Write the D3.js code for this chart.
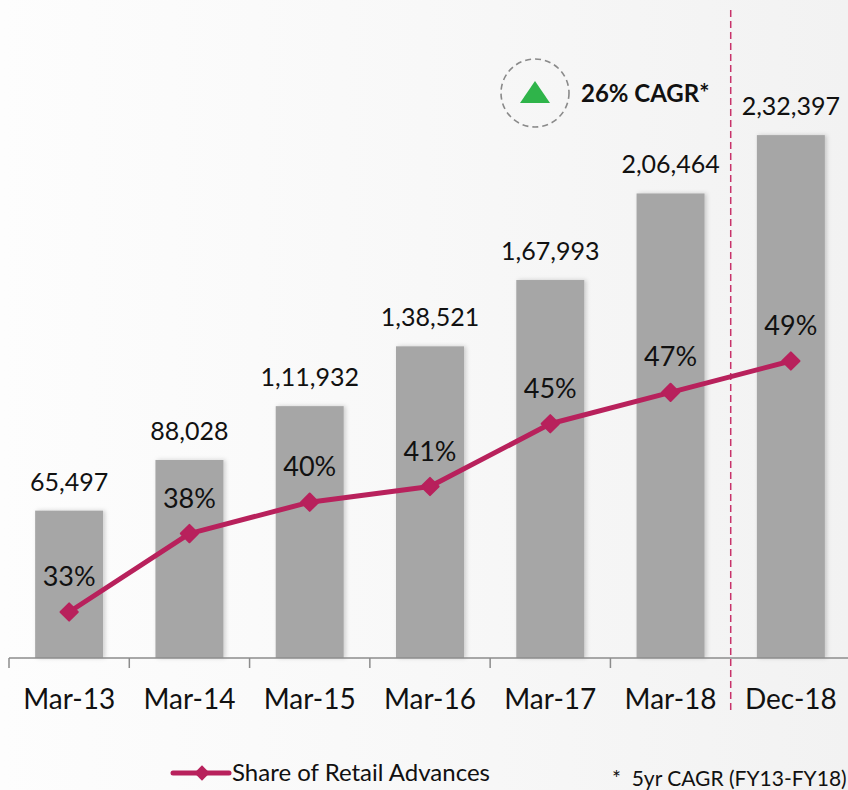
<!DOCTYPE html>
<html>
<head>
<meta charset="utf-8">
<script src="https://cdn.jsdelivr.net/npm/d3@7"></script>
<style>
  html, body { margin: 0; padding: 0; background: #fff; }
  svg { display: block; }
</style>
</head>
<body>
<div id="chart"></div>
<script>
// chart data
const categories = ["Mar-13", "Mar-14", "Mar-15", "Mar-16", "Mar-17", "Mar-18", "Dec-18"];
const advances = [65497, 88028, 111932, 138521, 167993, 206464, 232397];
const retailShare = [33, 38, 40, 41, 45, 47, 49];
const legendLabel = "Share of Retail Advances";
const cagrLabel = "26% CAGR*";
const footnote = "*  5yr CAGR (FY13-FY18)";

const width = 848;
const height = 790;
const baseY = 658;
const fontFamily = "Lato, 'Open Sans', sans-serif";
const barFill = "#a6a6a6";
const lineColor = "#b8215c";

// 1,11,932 style grouping
function indianFormat(n) {
    let s = String(n);
    if (s.length <= 3) return s;
    let last = s.slice(-3);
    let rest = s.slice(0, -3);
    let parts = [];
    while (rest.length > 2) {
        parts.unshift(rest.slice(-2));
        rest = rest.slice(0, -2);
    }
    if (rest.length) parts.unshift(rest);
    return parts.join(",") + "," + last;
}

const svg = d3.select("#chart")
    .append("svg")
    .attr("width", width)
    .attr("height", height);

const defs = svg.append("defs");
const grad = defs.append("linearGradient")
    .attr("id", "bg")
    .attr("x1", 0).attr("y1", 0).attr("x2", 1).attr("y2", 0);
grad.append("stop").attr("offset", 0).attr("stop-color", "#fdfdfd");
grad.append("stop").attr("offset", 0.5).attr("stop-color", "#f8f8f8");
grad.append("stop").attr("offset", 1).attr("stop-color", "#f2f2f2");

const shadow = defs.append("filter").attr("id", "barShadow")
    .attr("x", "-20%").attr("y", "-10%").attr("width", "140%").attr("height", "120%");
shadow.append("feDropShadow")
    .attr("dx", 2).attr("dy", 0).attr("stdDeviation", 2)
    .attr("flood-color", "#000").attr("flood-opacity", 0.18);

svg.append("rect")
    .attr("width", width).attr("height", height)
    .attr("fill", "url(#bg)");

// scales
const x = d3.scaleBand()
    .domain(categories)
    .range([9, 851])
    .padding(0);

const barWidth = 68;

const yBar = d3.scaleLinear()
    .domain([0, 250000])
    .range([baseY, baseY - 562.5]);

const yPct = d3.scaleLinear()
    .domain([33, 49])
    .range([612, 361]);

const cx = d => x(d) + x.bandwidth() / 2;

// bars
svg.append("g")
    .selectAll("rect")
    .data(advances)
    .enter()
    .append("rect")
    .attr("x", (d, i) => cx(categories[i]) - barWidth / 2)
    .attr("y", d => yBar(d))
    .attr("width", barWidth)
    .attr("height", d => baseY - yBar(d))
    .attr("fill", barFill)
    .attr("filter", "url(#barShadow)");

// bar value labels
svg.append("g")
    .selectAll("text")
    .data(advances)
    .enter()
    .append("text")
    .attr("x", (d, i) => cx(categories[i]))
    .attr("y", d => yBar(d) - 20)
    .attr("text-anchor", "middle")
    .attr("font-family", fontFamily)
    .attr("font-size", 25)
    .attr("fill", "#111")
    .text(d => indianFormat(d));

// x axis
const axis = svg.append("g")
    .attr("transform", `translate(0,${baseY})`);
axis.append("line")
    .attr("x1", 9).attr("x2", width)
    .attr("y1", 0).attr("y2", 0)
    .attr("stroke", "#8c8c8c").attr("stroke-width", 1.5);
axis.selectAll("line.tick")
    .data(categories.slice(0, 6))
    .enter()
    .append("line")
    .attr("class", "tick")
    .attr("x1", d => x(d)).attr("x2", d => x(d))
    .attr("y1", 0).attr("y2", 10)
    .attr("stroke", "#8c8c8c").attr("stroke-width", 1.5);
axis.selectAll("text")
    .data(categories)
    .enter()
    .append("text")
    .attr("x", d => cx(d))
    .attr("y", 51)
    .attr("text-anchor", "middle")
    .attr("font-family", fontFamily)
    .attr("font-size", 28)
    .attr("fill", "#111")
    .text(d => d);

// dashed separator before Dec-18
const sepX = x(categories[6]);
svg.append("line")
    .attr("x1", sepX).attr("x2", sepX)
    .attr("y1", 10).attr("y2", 712)
    .attr("stroke", "#c8336a")
    .attr("stroke-width", 1.5)
    .attr("stroke-dasharray", "7,4");

// share line
const line = d3.line()
    .x((d, i) => cx(categories[i]))
    .y(d => yPct(d));

svg.append("path")
    .datum(retailShare)
    .attr("d", line)
    .attr("fill", "none")
    .attr("stroke", lineColor)
    .attr("stroke-width", 5)
    .attr("stroke-linejoin", "round");

const diamond = d3.symbol().type(d3.symbolDiamond2).size(190);

svg.append("g")
    .selectAll("path")
    .data(retailShare)
    .enter()
    .append("path")
    .attr("d", diamond)
    .attr("transform", (d, i) => `translate(${cx(categories[i])},${yPct(d)})`)
    .attr("fill", lineColor)
    .attr("stroke", lineColor)
    .attr("stroke-width", 2)
    .attr("stroke-linejoin", "round");

svg.append("g")
    .selectAll("text")
    .data(retailShare)
    .enter()
    .append("text")
    .attr("x", (d, i) => cx(categories[i]))
    .attr("y", d => yPct(d) - 26)
    .attr("text-anchor", "middle")
    .attr("font-family", fontFamily)
    .attr("font-size", 27)
    .attr("fill", "#111")
    .text(d => d + "%");

// CAGR badge
const badge = svg.append("g").attr("transform", "translate(535,93)");
badge.append("circle")
    .attr("r", 34)
    .attr("fill", "none")
    .attr("stroke", "#8a8a8a")
    .attr("stroke-width", 1.6)
    .attr("stroke-dasharray", "6,4");
badge.append("path")
    .attr("d", "M0,-12 L15,10 L-15,10 Z")
    .attr("fill", "#2fb44a");
svg.append("text")
    .attr("x", 581)
    .attr("y", 102)
    .attr("font-family", fontFamily)
    .attr("font-weight", "bold")
    .attr("font-size", 24)
    .attr("fill", "#111")
    .text(cagrLabel);

// legend
const legend = svg.append("g").attr("transform", "translate(173,773)");
legend.append("line")
    .attr("x1", 0).attr("x2", 56)
    .attr("stroke", lineColor)
    .attr("stroke-width", 5)
    .attr("stroke-linecap", "round");
legend.append("path")
    .attr("d", d3.symbol().type(d3.symbolDiamond2).size(150))
    .attr("transform", "translate(29,0)")
    .attr("fill", lineColor);
legend.append("text")
    .attr("x", 59)
    .attr("y", 8)
    .attr("font-family", fontFamily)
    .attr("font-size", 24)
    .attr("fill", "#111")
    .text(legendLabel);

svg.append("text")
    .attr("x", 612)
    .attr("y", 786)
    .attr("font-family", fontFamily)
    .attr("font-size", 21)
    .attr("fill", "#111")
    .attr("xml:space", "preserve")
    .style("white-space", "pre")
    .text(footnote);
</script>
</body>
</html>
